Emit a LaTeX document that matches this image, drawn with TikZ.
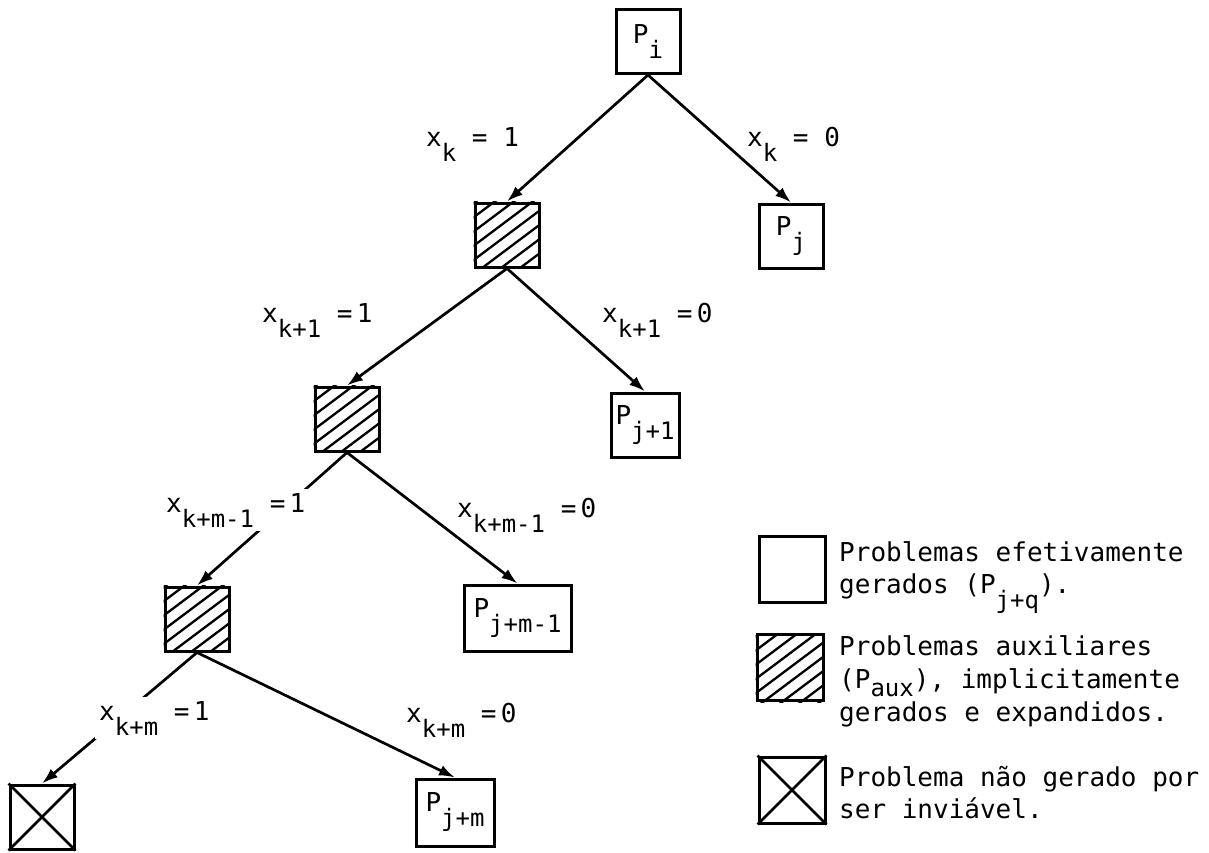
\documentclass[tikz,border=0pt]{standalone}
\usepackage{fontspec}
\setmainfont{DejaVu Sans Mono}
\usetikzlibrary{arrows.meta,calc}
\newcommand\sbs[2][-15pt]{\raisebox{#1}{\fontsize{24}{24}\selectfont #2}}
\newcommand\hatchin[1]{%
  \begin{scope}
    \clip (#1.south west) rectangle (#1.north east);
    \foreach \k in {-5,...,5}
      \draw[hatch] ($(#1.center)+(\k*19-60,45)$) -- ++(120,-90);
  \end{scope}}
\newcommand\crossin[1]{%
  \draw[xline] (#1.north west) -- (#1.south east) (#1.north east) -- (#1.south west);}
\begin{document}
\begin{tikzpicture}[x=1pt,y=-1pt,
  box/.style={draw,line width=3pt,minimum width=64pt,minimum height=64pt,inner sep=1pt,
    font=\fontsize{26}{30}\selectfont},
  lbl/.style={font=\fontsize{26}{30}\selectfont,inner sep=0pt,anchor=base west},
  gaplbl/.style={lbl,fill=white,inner sep=4pt},
  arr/.style={line width=2.7pt,-{Latex[length=16pt,width=11pt]}},
  hatch/.style={line width=2.3pt},
  xline/.style={line width=2.6pt},
]
\useasboundingbox[fill=white] (0,0) rectangle (1209,853);

% tree nodes
\node[box] (pi) at (648,41.5) {P\sbs{i}};
\node[box] (h1) at (507,235) {};
\node[box] (pj) at (791,236) {P\sbs{j}};
\node[box] (h2) at (347,419) {};
\node[box,minimum width=68pt] (pj1) at (645,425) {P\sbs{j+1}};
\node[box] (h3) at (197,619) {};
\node[box,minimum width=107pt,minimum height=66pt] (pjm1) at (517.5,618) {P\sbs{j+m-1}};
\node[box,minimum width=78pt,minimum height=67pt] (pjm) at (455,812.5) {P\sbs{j+m}};
\node[box] (xx) at (42,817) {};

\hatchin{h1}
\hatchin{h2}
\hatchin{h3}
\crossin{xx}

% connectors
\draw[arr] (pi.south) -- (h1.north);
\draw[arr] (pi.south) -- (pj.north);
\draw[arr] (h1.south) -- (h2.north);
\draw[arr] (h1.south) -- (pj1.north);
\draw[arr] (h2.south) -- (h3.north);
\draw[arr] (h2.south) -- (pjm1.north);
\draw[arr] (h3.south) -- (xx.north);
\draw[arr] (h3.south) -- (pjm.north);

% connector labels
\node[lbl] (l1) at (426,147) {x\sbs{k} = 1};
\node[lbl] (l2) at (747,147) {x\sbs{k} = 0};
\node[lbl] (l3) at (262,322) {x\sbs{k+1} =\,1};
\node[lbl] (l4) at (602,322) {x\sbs{k+1} =\,0};
\node[gaplbl] (l5) at (162,512) {x\sbs{k+m-1} =\,1};
\node[lbl] (l6) at (457,517) {x\sbs{k+m-1} =\,0};
\node[gaplbl] (l7) at (95,720) {x\sbs{k+m} =\,1};
\node[lbl] (l8) at (406,722) {x\sbs{k+m} =\,0};

% legend
\node[box,minimum width=66pt,minimum height=66pt] (lg1) at (792,569.5) {};
\node[box,minimum width=66pt,minimum height=66pt] (lg2) at (790,667.5) {};
\node[box,minimum width=66pt,minimum height=66pt] (lg3) at (792,790) {};
\hatchin{lg2}
\crossin{lg3}

\node[lbl] (t1a) at (839,561) {Problemas efetivamente};
\node[lbl] (t1b) at (839,593) {gerados (P\sbs{j+q}).};
\node[lbl] (t2a) at (839,655) {Problemas auxiliares};
\node[lbl] (t2b) at (839,688) {(P\sbs[-8pt]{aux}), implicitamente};
\node[lbl] (t2c) at (839,721) {gerados e expandidos.};
\node[lbl] (t3a) at (839,786) {Problema não gerado por};
\node[lbl] (t3b) at (839,818) {ser inviável.};
\end{tikzpicture}
\end{document}
